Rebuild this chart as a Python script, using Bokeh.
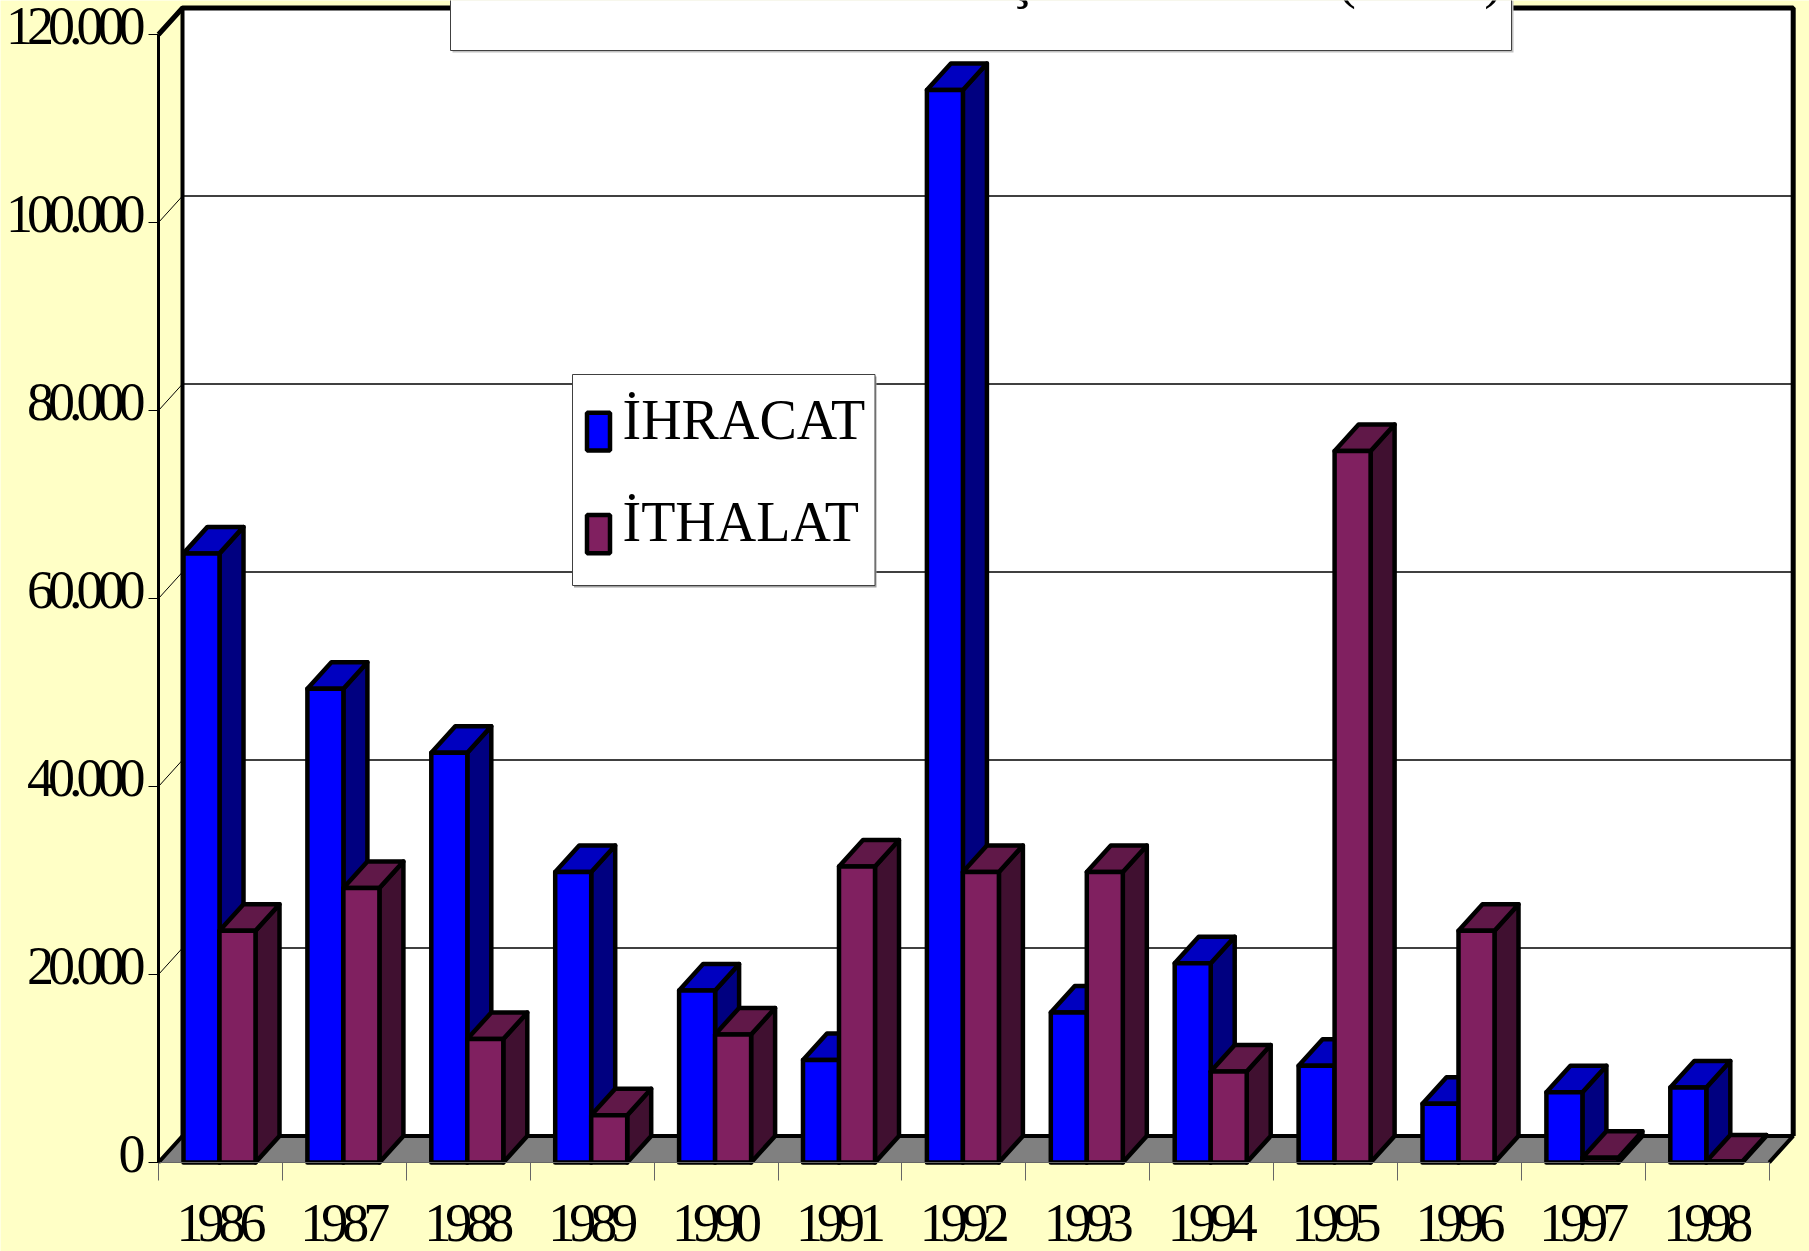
from bokeh.plotting import figure
from bokeh.models import Range1d, LinearAxis, FixedTicker
from bokeh.core.properties import value
from bokeh.embed import file_html
from bokeh.resources import INLINE

years = ["1986","1987","1988","1989","1990","1991","1992","1993","1994","1995","1996","1997","1998"]
ihracat = [64800,50400,43600,30900,18300,10900,114100,15950,21200,10300,6260,7480,7980]
ithalat = [24660,29200,13130,5030,13620,31500,30900,30900,9690,75700,24660,500,100]
y_ticks = [0,20000,40000,60000,80000,100000,120000]
y_labels = ["0","20.000","40.000","60.000","80.000","100.000","120.000"]
legend_names = ["İHRACAT","İTHALAT"]
title_bits = ["ş","(",")"]

W,H = 1809,1251
BG = "#FFFFC6"
X0,Y0 = 158,1162        # page pixel of origin
CAT = 123.9             # px per category
UNIT = 188/20000        # px per value unit
DX,DY = 24/CAT, 26.5/UNIT  # chart depth in data units
BAR = 36/CAT; BAR0 = 25/CAT
SERIF = value("Liberation Serif")
SPACING = 6             # tightened letter spacing of the axis labels

p = figure(width=W,height=H,output_backend="svg",toolbar_location=None,
           x_range=Range1d(-X0/CAT,(W-X0)/CAT),
           y_range=Range1d(-(H-Y0)/UNIT,Y0/UNIT),
           min_border=0,background_fill_color=BG,border_fill_color=BG,outline_line_color=None)
p.xaxis.visible=False; p.yaxis.visible=False
p.xgrid.visible=False; p.ygrid.visible=False
p.styles={"letter-spacing":f"-{SPACING}px"}
n=len(years)

# walls and floor
top=y_ticks[-1]
p.patch([0,DX,DX,n+DX,n+DX,0],[0,DY,top+DY,top+DY,DY,0],fill_color="white",line_color=None)
p.patch([0,DX,n+DX,n],[0,DY,DY,0],fill_color="#808080",line_color=None)
p.segment([DX]*5,[v+DY for v in y_ticks[1:6]],[n+DX]*5,[v+DY for v in y_ticks[1:6]],line_color="black",line_width=1.3)
p.segment([0]*5,y_ticks[1:6],[DX]*5,[v+DY for v in y_ticks[1:6]],line_color="black",line_width=1)
p.line([0,DX,n+DX,n+DX],[top,top+DY,top+DY,DY],line_color="black",line_width=5)
p.line([DX,DX],[DY,top+DY],line_color="black",line_width=4)
p.line([0,DX,n+DX,n],[0,DY,DY,0],line_color="black",line_width=4)

# 3D bars
def bar(x,v,front,side,topc):
    kw=dict(line_color="black",line_width=4.5,line_join="round")
    p.patch([x+BAR,x+BAR+DX,x+BAR+DX,x+BAR],[0,DY,v+DY,v],fill_color=side,**kw)
    p.patch([x,x+DX,x+BAR+DX,x+BAR],[v,v+DY,v+DY,v],fill_color=topc,**kw)
    p.patch([x,x+BAR,x+BAR,x],[0,0,v,v],fill_color=front,**kw)
for i in range(n):
    bar(i+BAR0,ihracat[i],"#0000FF","#000080","#0000C0")
    bar(i+BAR0+BAR,ithalat[i],"#802060","#401030","#601848")

# axes (ticks from the axes; labels as text so the tight spacing can be compensated)
ya=LinearAxis(fixed_location=0,ticker=FixedTicker(ticks=y_ticks),bounds=(0,top),
    major_label_overrides={v:"" for v in y_ticks},
    major_tick_out=10,major_tick_in=0,major_tick_line_color="black",major_tick_line_width=1,
    minor_tick_out=0,minor_tick_in=0,axis_line_color="black",axis_line_width=3)
p.add_layout(ya,"left")
centers=[i+0.5 for i in range(n)]
xa=LinearAxis(fixed_location=0,ticker=FixedTicker(ticks=centers,minor_ticks=list(range(n+1))),bounds=(0,n),
    major_label_overrides={v:"" for v in centers},
    major_tick_out=0,major_tick_in=0,minor_tick_out=18,minor_tick_in=0,minor_tick_line_color="#666666",minor_tick_line_width=1,
    axis_line_color="#666666",axis_line_width=1)
p.add_layout(xa,"below")
p.text([0]*len(y_ticks),y_ticks,text=y_labels,text_font=SERIF,text_font_size="54px",text_color="black",
       text_align="right",text_baseline="alphabetic",
       x_offset=[-19+SPACING*len(s) for s in y_labels],y_offset=-9)
p.text(centers,[0]*n,text=years,text_font=SERIF,text_font_size="54px",text_color="black",
       text_align="center",text_baseline="alphabetic",x_offset=10,y_offset=60)

# overlay: legend and title box, normal letter spacing
q=figure(width=W,height=600,output_backend="svg",toolbar_location=None,
         x_range=Range1d(0,W),y_range=Range1d(600,0),min_border=0,
         background_fill_color=None,border_fill_color=None,outline_line_color=None)
q.xaxis.visible=False;q.yaxis.visible=False;q.xgrid.visible=False;q.ygrid.visible=False
q.styles={"position":"absolute","left":"0px","top":"0px","letter-spacing":"normal"}
q.quad(left=452,right=1513,top=0,bottom=52,fill_color="#C0C0C0",line_color=None)
q.quad(left=450,right=1511,top=-5,bottom=50,fill_color="white",line_color="#404040",line_width=1)
q.text([1023,1346,1493],[-23,-23,-23],text=title_bits,text_font=SERIF,text_font_size="56px",text_align="center",text_baseline="alphabetic")
q.quad(left=573.5,right=876,top=376,bottom=587,fill_color="#A0A0A0",line_color=None)
q.quad(left=572,right=874.5,top=374,bottom=585,fill_color="white",line_color="#404040",line_width=1)
q.quad(left=[586.5,586.5],right=[609.5,609.5],top=[412.2,514.5],bottom=[450,552.8],fill_color=["#0000FF","#802060"],line_color="black",line_width=4.5)
q.text([622,622],[419,521],text=legend_names,text_font=SERIF,text_font_size="56px",text_baseline="alphabetic")

open("out.html","w").write(file_html([p,q],INLINE))
